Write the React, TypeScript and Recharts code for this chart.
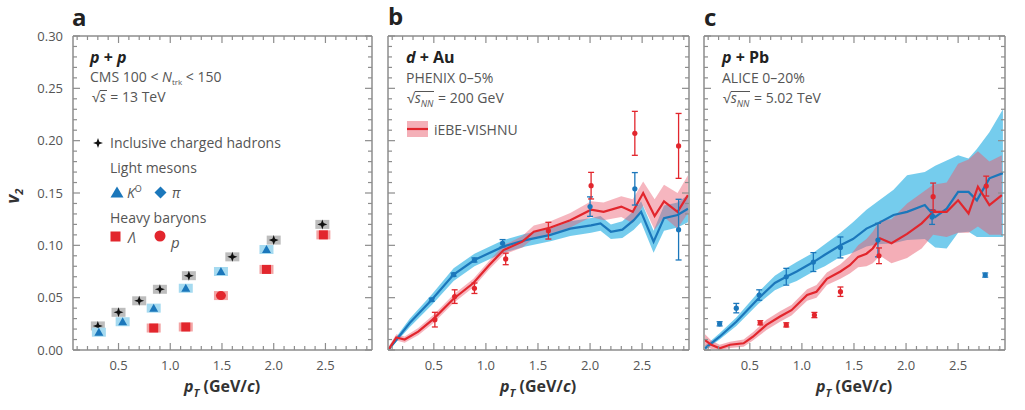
import React from 'react';
import { ComposedChart, Line, Area, Scatter, XAxis, YAxis, ErrorBar } from 'recharts';

// axis ticks (minor every 0.1 / 0.01, labels on the 0.5 / 0.05 ones)
const xTicks = [0.1, 0.2, 0.3, 0.4, 0.5, 0.6, 0.7, 0.8, 0.9, 1.0, 1.1, 1.2, 1.3, 1.4, 1.5, 1.6, 1.7, 1.8, 1.9, 2.0, 2.1, 2.2, 2.3, 2.4, 2.5, 2.6, 2.7, 2.8, 2.9];
const yTicks = [0, 0.01, 0.02, 0.03, 0.04, 0.05, 0.06, 0.07, 0.08, 0.09, 0.1, 0.11, 0.12, 0.13, 0.14, 0.15, 0.16, 0.17, 0.18, 0.19, 0.2, 0.21, 0.22, 0.23, 0.24, 0.25, 0.26, 0.27, 0.28, 0.29, 0.3];
const X_DOMAIN = [0.06, 2.95];
const Y_DOMAIN = [0, 0.3];

// panel a: p+p CMS
const ppHadrons = [
  { x: 0.30, v: 0.023 }, { x: 0.50, v: 0.036 }, { x: 0.70, v: 0.047 }, { x: 0.90, v: 0.058 },
  { x: 1.18, v: 0.071 }, { x: 1.60, v: 0.089 }, { x: 2.00, v: 0.105 }, { x: 2.47, v: 0.120 },
];
const ppK0 = [
  { x: 0.31, v: 0.017 }, { x: 0.54, v: 0.027 }, { x: 0.84, v: 0.040 },
  { x: 1.15, v: 0.059 }, { x: 1.49, v: 0.075 }, { x: 1.93, v: 0.096 },
];
const ppLambda = [
  { x: 0.84, v: 0.021 }, { x: 1.15, v: 0.022 }, { x: 1.93, v: 0.077 }, { x: 2.48, v: 0.110 },
];
const ppProton = [{ x: 1.49, v: 0.052 }];

// panel b: d+Au PHENIX, iEBE-VISHNU curves with bands
const dAuPionModel = [
  { x: 0.07, v: 0.001, band: [0, 0.003] }, { x: 0.27, v: 0.026, band: [0.022, 0.03] },
  { x: 0.48, v: 0.048, band: [0.043, 0.053] }, { x: 0.69, v: 0.072, band: [0.066, 0.078] },
  { x: 0.89, v: 0.086, band: [0.08, 0.092] }, { x: 1.17, v: 0.099, band: [0.093, 0.105] },
  { x: 1.38, v: 0.105, band: [0.099, 0.111] }, { x: 1.62, v: 0.11, band: [0.104, 0.116] },
  { x: 1.81, v: 0.116, band: [0.109, 0.123] }, { x: 2.01, v: 0.119, band: [0.112, 0.126] },
  { x: 2.10, v: 0.121, band: [0.114, 0.128] }, { x: 2.20, v: 0.113, band: [0.106, 0.12] },
  { x: 2.31, v: 0.115, band: [0.107, 0.123] }, { x: 2.42, v: 0.124, band: [0.115, 0.133] },
  { x: 2.49, v: 0.132, band: [0.122, 0.142] }, { x: 2.61, v: 0.1035, band: [0.093, 0.114] },
  { x: 2.71, v: 0.126, band: [0.114, 0.138] }, { x: 2.84, v: 0.129, band: [0.117, 0.141] },
  { x: 2.94, v: 0.135, band: [0.122, 0.148] },
];
const dAuProtonModel = [
  { x: 0.07, v: 0.001, band: [0, 0.004] }, { x: 0.14, v: 0.012, band: [0.009, 0.015] },
  { x: 0.22, v: 0.01, band: [0.007, 0.013] }, { x: 0.35, v: 0.0175, band: [0.014, 0.021] },
  { x: 0.50, v: 0.03, band: [0.026, 0.034] }, { x: 0.69, v: 0.049, band: [0.045, 0.053] },
  { x: 0.88, v: 0.064, band: [0.06, 0.068] }, { x: 1.03, v: 0.081, band: [0.077, 0.085] },
  { x: 1.17, v: 0.0955, band: [0.091, 0.1] }, { x: 1.35, v: 0.1035, band: [0.098, 0.109] },
  { x: 1.46, v: 0.113, band: [0.107, 0.119] }, { x: 1.62, v: 0.117, band: [0.111, 0.123] },
  { x: 1.81, v: 0.124, band: [0.117, 0.131] }, { x: 2.01, v: 0.134, band: [0.127, 0.142] },
  { x: 2.13, v: 0.132, band: [0.124, 0.141] }, { x: 2.30, v: 0.137, band: [0.127, 0.147] },
  { x: 2.41, v: 0.132, band: [0.121, 0.144] }, { x: 2.51, v: 0.15, band: [0.138, 0.161] },
  { x: 2.62, v: 0.128, band: [0.115, 0.144] }, { x: 2.71, v: 0.142, band: [0.127, 0.158] },
  { x: 2.84, v: 0.132, band: [0.116, 0.15] }, { x: 2.94, v: 0.148, band: [0.131, 0.167] },
];
const dAuProtonData = [
  { x: 0.51, v: 0.029, err: 0.007 }, { x: 0.70, v: 0.051, err: 0.0065 }, { x: 0.89, v: 0.059, err: 0.005 },
  { x: 1.19, v: 0.087, err: 0.0055 }, { x: 1.60, v: 0.114, err: 0.008 }, { x: 2.01, v: 0.157, err: 0.0127 },
  { x: 2.43, v: 0.207, err: 0.021 }, { x: 2.85, v: 0.195, err: 0.031 },
];
const dAuPionData = [
  { x: 0.48, v: 0.048, err: 0.0015 }, { x: 0.69, v: 0.072, err: 0.0015 }, { x: 0.89, v: 0.086, err: 0.002 },
  { x: 1.16, v: 0.102, err: 0.0035 }, { x: 2.00, v: 0.137, err: 0.0093 }, { x: 2.43, v: 0.154, err: 0.0155 },
  { x: 2.85, v: 0.115, err: 0.029 },
];

// panel c: p+Pb ALICE
const pPbPionModel = [
  { x: 0.07, v: 0.0016, band: [0, 0.004] }, { x: 0.21, v: 0.0127, band: [0.01, 0.016] },
  { x: 0.37, v: 0.027, band: [0.023, 0.031] }, { x: 0.58, v: 0.049, band: [0.044, 0.055] },
  { x: 0.74, v: 0.064, band: [0.057, 0.071] }, { x: 0.85, v: 0.07, band: [0.062, 0.078] },
  { x: 0.95, v: 0.075, band: [0.066, 0.084] }, { x: 1.11, v: 0.084, band: [0.075, 0.093] },
  { x: 1.22, v: 0.091, band: [0.08, 0.101] }, { x: 1.37, v: 0.1, band: [0.089, 0.112] },
  { x: 1.49, v: 0.106, band: [0.093, 0.122] }, { x: 1.62, v: 0.116, band: [0.099, 0.134] },
  { x: 1.73, v: 0.121, band: [0.101, 0.142] }, { x: 1.88, v: 0.129, band: [0.102, 0.153] },
  { x: 2.01, v: 0.132, band: [0.105, 0.167] }, { x: 2.18, v: 0.1385, band: [0.106, 0.17] },
  { x: 2.28, v: 0.127, band: [0.098, 0.176] }, { x: 2.39, v: 0.135, band: [0.097, 0.181] },
  { x: 2.50, v: 0.151, band: [0.112, 0.186] }, { x: 2.60, v: 0.151, band: [0.113, 0.183] },
  { x: 2.68, v: 0.143, band: [0.108, 0.192] }, { x: 2.80, v: 0.164, band: [0.108, 0.208] },
  { x: 2.93, v: 0.169, band: [0.108, 0.23] },
];
const pPbProtonModel = [
  { x: 0.07, v: 0.0095, band: [0.004, 0.015] }, { x: 0.13, v: 0.005, band: [0.001, 0.009] },
  { x: 0.21, v: 0.0016, band: [0, 0.005] }, { x: 0.31, v: 0.005, band: [0.002, 0.008] },
  { x: 0.44, v: 0.0064, band: [0.003, 0.01] }, { x: 0.53, v: 0.0127, band: [0.009, 0.017] },
  { x: 0.66, v: 0.024, band: [0.019, 0.029] }, { x: 0.79, v: 0.032, band: [0.027, 0.037] },
  { x: 0.90, v: 0.038, band: [0.033, 0.043] }, { x: 1.05, v: 0.0525, band: [0.047, 0.058] },
  { x: 1.14, v: 0.0557, band: [0.05, 0.062] }, { x: 1.24, v: 0.068, band: [0.062, 0.074] },
  { x: 1.37, v: 0.075, band: [0.068, 0.082] }, { x: 1.46, v: 0.081, band: [0.073, 0.09] },
  { x: 1.54, v: 0.089, band: [0.079, 0.1] }, { x: 1.62, v: 0.092, band: [0.08, 0.106] },
  { x: 1.68, v: 0.097, band: [0.083, 0.113] }, { x: 1.75, v: 0.1067, band: [0.09, 0.124] },
  { x: 1.86, v: 0.102, band: [0.083, 0.125] }, { x: 2.01, v: 0.111, band: [0.088, 0.14] },
  { x: 2.15, v: 0.121, band: [0.097, 0.15] }, { x: 2.26, v: 0.132, band: [0.11, 0.158] },
  { x: 2.39, v: 0.132, band: [0.108, 0.16] }, { x: 2.50, v: 0.143, band: [0.112, 0.178] },
  { x: 2.60, v: 0.1305, band: [0.112, 0.182] }, { x: 2.69, v: 0.156, band: [0.118, 0.19] },
  { x: 2.80, v: 0.1385, band: [0.11, 0.18] }, { x: 2.92, v: 0.148, band: [0.11, 0.186] },
];
const pPbPionData = [
  { x: 0.21, v: 0.025, err: 0.002 }, { x: 0.37, v: 0.04, err: 0.0045 }, { x: 0.59, v: 0.0525, err: 0.005 },
  { x: 0.85, v: 0.07, err: 0.008 }, { x: 1.11, v: 0.084, err: 0.009 }, { x: 1.37, v: 0.098, err: 0.01 },
  { x: 1.73, v: 0.105, err: 0.016 }, { x: 2.25, v: 0.127, err: 0.007 }, { x: 2.76, v: 0.0716, err: 0.002 },
];
const pPbProtonData = [
  { x: 0.60, v: 0.026, err: 0.002 }, { x: 0.85, v: 0.024, err: 0.002 }, { x: 1.12, v: 0.0334, err: 0.0025 },
  { x: 1.37, v: 0.0557, err: 0.0045 }, { x: 1.74, v: 0.09, err: 0.0075 }, { x: 2.26, v: 0.1465, err: 0.013 },
  { x: 2.77, v: 0.1566, err: 0.0095 },
];

const FONT = "'Open Sans', sans-serif";
const FRAME = '#8d8d8d';
const GREY_TEXT = '#555';
const BLUE = '#1b77bb';
const RED = '#e2262d';
const BLUE_BAND = '#5dc3ea';
const RED_BAND = '#ea5d70';

const isMajor = (v: number, step: number) => Math.abs(v / step - Math.round(v / step)) < 1e-6;

const XTickBottom = (props: any) => {
  const { x, y, payload } = props;
  const major = isMajor(payload.value, 0.5);
  return (
    <g>
      <line x1={x} y1={y} x2={x} y2={y - (major ? 7 : 4)} stroke={FRAME} strokeWidth={1.2} />
      {major && (
        <text x={x} y={y + 20} textAnchor="middle" fontSize={13} fill={GREY_TEXT} fontFamily={FONT}>
          {payload.value.toFixed(1)}
        </text>
      )}
    </g>
  );
};

const XTickTop = (props: any) => {
  const { x, y, payload } = props;
  const major = isMajor(payload.value, 0.5);
  return <line x1={x} y1={y} x2={x} y2={y + (major ? 7 : 4)} stroke={FRAME} strokeWidth={1.2} />;
};

const makeYTickLeft = (showLabels: boolean) => (props: any) => {
  const { x, y, payload } = props;
  const major = isMajor(payload.value, 0.05);
  return (
    <g>
      <line x1={x} y1={y} x2={x + (major ? 7 : 4)} y2={y} stroke={FRAME} strokeWidth={1.2} />
      {showLabels && major && (
        <text x={x - 10} y={y + 4.5} textAnchor="end" fontSize={13} fill={GREY_TEXT} fontFamily={FONT}>
          {payload.value.toFixed(2)}
        </text>
      )}
    </g>
  );
};

const YTickRight = (props: any) => {
  const { x, y, payload } = props;
  const major = isMajor(payload.value, 0.05);
  return <line x1={x} y1={y} x2={x - (major ? 7 : 4)} y2={y} stroke={FRAME} strokeWidth={1.2} />;
};

// panel a markers, drawn on top of a light systematic box
const Star = ({ cx, cy, s = 5, fill = '#111' }: any) => (
  <polygon
    points={`${cx},${cy - s} ${cx + 1.3},${cy - 1.3} ${cx + s},${cy} ${cx + 1.3},${cy + 1.3} ${cx},${cy + s} ${cx - 1.3},${cy + 1.3} ${cx - s},${cy} ${cx - 1.3},${cy - 1.3}`}
    fill={fill}
  />
);
const Tri = ({ cx, cy, s = 5, fill = BLUE }: any) => (
  <polygon points={`${cx},${cy - s} ${cx + s},${cy + s * 0.8} ${cx - s},${cy + s * 0.8}`} fill={fill} />
);

const boxed = (box: string, kind: string) => (props: any) => {
  const { cx, cy } = props;
  if (cx == null || cy == null) return <g />;
  return (
    <g>
      <rect x={cx - 7} y={cy - 4.5} width={14} height={9} fill={box} />
      {kind === 'star' && <Star cx={cx} cy={cy} />}
      {kind === 'tri' && <Tri cx={cx} cy={cy} s={4.5} />}
      {kind === 'square' && <rect x={cx - 4.5} y={cy - 4.5} width={9} height={9} fill={RED} />}
      {kind === 'circle' && <ellipse cx={cx} cy={cy} rx={5} ry={4.5} fill={RED} />}
    </g>
  );
};

const dot = (color: string) => (props: any) => {
  const { cx, cy } = props;
  if (cx == null || cy == null) return <g />;
  return <circle cx={cx} cy={cy} r={2.6} fill={color} />;
};

// chart margins; each axis box is 1px so Recharts draws it
const ML = 70;
const MR = 10;

function Panel({ left, plotWidth, showYLabels, children }: any) {
  return (
    <div style={{ position: 'absolute', left: left - ML, top: 0 }}>
      <ComposedChart width={plotWidth + ML + MR} height={410} margin={{ top: 35, right: MR - 1, bottom: 59, left: ML - 1 }}>
        <XAxis dataKey="x" type="number" domain={X_DOMAIN} allowDataOverflow ticks={xTicks} interval={0}
          height={1} tickSize={0} tickMargin={0} tickLine={false} tick={<XTickBottom />}
          axisLine={{ stroke: FRAME, strokeWidth: 1.5 }} />
        <XAxis xAxisId="top" orientation="top" dataKey="x" type="number" domain={X_DOMAIN} allowDataOverflow ticks={xTicks} interval={0}
          height={1} tickSize={0} tickMargin={0} tickLine={false} tick={<XTickTop />}
          axisLine={{ stroke: FRAME, strokeWidth: 1.5 }} />
        <YAxis type="number" domain={Y_DOMAIN} allowDataOverflow ticks={yTicks} interval={0}
          width={1} tickSize={0} tickMargin={0} tickLine={false} tick={makeYTickLeft(showYLabels)}
          axisLine={{ stroke: FRAME, strokeWidth: 1.5 }} />
        <YAxis yAxisId="right" orientation="right" type="number" domain={Y_DOMAIN} allowDataOverflow ticks={yTicks} interval={0}
          width={1} tickSize={0} tickMargin={0} tickLine={false} tick={<YTickRight />}
          axisLine={{ stroke: FRAME, strokeWidth: 1.5 }} />
        {children}
      </ComposedChart>
    </div>
  );
}

const Txt = ({ left, cy, size = 14, color = GREY_TEXT, weight = 400, children, style }: any) => (
  <div style={{
    position: 'absolute', left, top: cy, transform: 'translateY(-50%)', fontFamily: FONT,
    fontSize: size, color, fontWeight: weight, lineHeight: 1, whiteSpace: 'nowrap', ...style,
  }}>{children}</div>
);

const XTitle = ({ cx }: any) => (
  <div style={{
    position: 'absolute', left: cx - 60, width: 120, top: 388, transform: 'translateY(-50%)', textAlign: 'center',
    fontFamily: FONT, fontSize: 16, fontWeight: 700, color: '#333', lineHeight: 1, whiteSpace: 'nowrap',
  }}>
    <i>p</i><sub style={{ fontSize: 11, fontStyle: 'italic' }}>T</sub> (GeV/<i>c</i>)
  </div>
);

const SqrtS = ({ nn }: any) => (
  <span>
    √<span style={{ display: 'inline-block', borderTop: `1px solid ${GREY_TEXT}`, lineHeight: '11px', paddingRight: 1 }}>
      <i>s</i>{nn && <sub style={{ fontSize: 9, fontStyle: 'italic', lineHeight: 0 }}>NN</sub>}
    </span>
  </span>
);

export default function App() {
  return (
    <div style={{ position: 'absolute', left: 0, top: 0, width: 1025, height: 410, background: '#fff', overflow: 'hidden' }}>
      <Panel left={73} plotWidth={299} showYLabels>
        <Scatter data={ppHadrons} dataKey="v" shape={boxed('#bdbdbd', 'star')} isAnimationActive={false} />
        <Scatter data={ppK0} dataKey="v" shape={boxed('#a5daf0', 'tri')} isAnimationActive={false} />
        <Scatter data={ppLambda} dataKey="v" shape={boxed('#f3a4a4', 'square')} isAnimationActive={false} />
        <Scatter data={ppProton} dataKey="v" shape={boxed('#f3a4a4', 'circle')} isAnimationActive={false} />
      </Panel>

      <Panel left={388} plotWidth={301} showYLabels={false}>
        <Area data={dAuPionModel} dataKey="band" type="linear" stroke="none" fill={BLUE_BAND} fillOpacity={0.85} isAnimationActive={false} />
        <Area data={dAuProtonModel} dataKey="band" type="linear" stroke="none" fill={RED_BAND} fillOpacity={0.45} isAnimationActive={false} />
        <Line data={dAuPionModel} dataKey="v" type="linear" stroke={BLUE} strokeWidth={2.2} dot={false} isAnimationActive={false} />
        <Line data={dAuProtonModel} dataKey="v" type="linear" stroke={RED} strokeWidth={2.2} dot={false} isAnimationActive={false} />
        <Scatter data={dAuPionData} dataKey="v" shape={dot(BLUE)} isAnimationActive={false}>
          <ErrorBar dataKey="err" direction="y" width={3} stroke={BLUE} strokeWidth={1.3} />
        </Scatter>
        <Scatter data={dAuProtonData} dataKey="v" shape={dot(RED)} isAnimationActive={false}>
          <ErrorBar dataKey="err" direction="y" width={3} stroke={RED} strokeWidth={1.3} />
        </Scatter>
      </Panel>

      <Panel left={704} plotWidth={301} showYLabels={false}>
        <Area data={pPbPionModel} dataKey="band" type="linear" stroke="none" fill={BLUE_BAND} fillOpacity={0.85} isAnimationActive={false} />
        <Area data={pPbProtonModel} dataKey="band" type="linear" stroke="none" fill={RED_BAND} fillOpacity={0.5} isAnimationActive={false} />
        <Line data={pPbPionModel} dataKey="v" type="linear" stroke={BLUE} strokeWidth={2.2} dot={false} isAnimationActive={false} />
        <Line data={pPbProtonModel} dataKey="v" type="linear" stroke={RED} strokeWidth={2.2} dot={false} isAnimationActive={false} />
        <Scatter data={pPbPionData} dataKey="v" shape={dot(BLUE)} isAnimationActive={false}>
          <ErrorBar dataKey="err" direction="y" width={3} stroke={BLUE} strokeWidth={1.3} />
        </Scatter>
        <Scatter data={pPbProtonData} dataKey="v" shape={dot(RED)} isAnimationActive={false}>
          <ErrorBar dataKey="err" direction="y" width={3} stroke={RED} strokeWidth={1.3} />
        </Scatter>
      </Panel>

      {/* panel letters */}
      <Txt left={72} cy={17} size={24} weight={700} color="#222">a</Txt>
      <Txt left={388} cy={16} size={24} weight={700} color="#222">b</Txt>
      <Txt left={704} cy={17} size={24} weight={700} color="#222">c</Txt>

      {/* axis titles */}
      <div style={{
        position: 'absolute', left: 14, top: 196, transform: 'translate(-50%, -50%) rotate(-90deg)',
        fontFamily: FONT, fontSize: 17, fontWeight: 700, fontStyle: 'italic', color: '#333', lineHeight: 1,
      }}>
        v<sub style={{ fontSize: 11 }}>2</sub>
      </div>
      <XTitle cx={222} />
      <XTitle cx={538} />
      <XTitle cx={854} />

      {/* panel a text + legend */}
      <Txt left={90} cy={57} size={16} weight={700} color="#222"><i>p</i> + <i>p</i></Txt>
      <Txt left={90} cy={78}>CMS 100 &lt; <i>N</i><sub style={{ fontSize: 8 }}>trk</sub> &lt; 150</Txt>
      <Txt left={92} cy={97}><SqrtS /> = 13 TeV</Txt>
      <svg style={{ position: 'absolute', left: 92, top: 137 }} width={12} height={12}>
        <Star cx={6} cy={6} />
      </svg>
      <Txt left={110} cy={143}>Inclusive charged hadrons</Txt>
      <Txt left={110} cy={168}>Light mesons</Txt>
      <svg style={{ position: 'absolute', left: 110, top: 186 }} width={14} height={13}>
        <polygon points="7,0.5 13.5,11.5 0.5,11.5" fill={BLUE} />
      </svg>
      <Txt left={127} cy={192}><i>K</i><sup style={{ fontSize: 9 }}>O</sup></Txt>
      <svg style={{ position: 'absolute', left: 154, top: 186 }} width={13} height={13}>
        <polygon points="6.5,0.5 12.5,6.5 6.5,12.5 0.5,6.5" fill={BLUE} />
      </svg>
      <Txt left={172} cy={193}><i>π</i></Txt>
      <Txt left={110} cy={218}>Heavy baryons</Txt>
      <svg style={{ position: 'absolute', left: 110, top: 231 }} width={11} height={11}>
        <rect x={0.5} y={0.5} width={10} height={10} fill={RED} />
      </svg>
      <Txt left={128} cy={238}><i>Λ</i></Txt>
      <svg style={{ position: 'absolute', left: 154, top: 230 }} width={12} height={12}>
        <circle cx={6} cy={6} r={5.5} fill={RED} />
      </svg>
      <Txt left={171} cy={242} size={15}><i>p</i></Txt>

      {/* panel b text */}
      <Txt left={406} cy={57} size={16} weight={700} color="#222"><i>d</i> + Au</Txt>
      <Txt left={406} cy={78}>PHENIX 0–5%</Txt>
      <Txt left={407} cy={98}><SqrtS nn /> = 200 GeV</Txt>
      <svg style={{ position: 'absolute', left: 407, top: 121 }} width={22} height={17}>
        <rect x={0} y={0} width={21} height={16} fill="#f4b0b8" />
        <line x1={0} y1={8} x2={21} y2={8} stroke={RED} strokeWidth={2.2} />
      </svg>
      <Txt left={434} cy={130}>iEBE-VISHNU</Txt>

      {/* panel c text */}
      <Txt left={722} cy={57} size={16} weight={700} color="#222"><i>p</i> + Pb</Txt>
      <Txt left={722} cy={78}>ALICE 0–20%</Txt>
      <Txt left={723} cy={98}><SqrtS nn /> = 5.02 TeV</Txt>
    </div>
  );
}
